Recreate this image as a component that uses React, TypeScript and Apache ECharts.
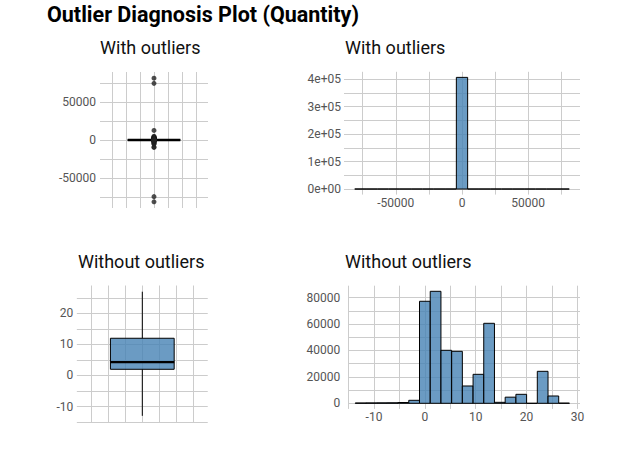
import React, { useEffect, useRef } from "react";
import * as echarts from "echarts";

// ---------- DATA ----------
const chartTitle = "Outlier Diagnosis Plot (Quantity)";
const panelTitles = ["With outliers", "With outliers", "Without outliers", "Without outliers"];

// Box with outliers: [x, min, Q1, median, Q3, max]
const boxWithStats = [0, -13, 1, 3, 10, 23];
const outlierValues = [
  80995, 74215, 12540, 4800, 4300, 3906, 3186, 3114, 3000, 2880, 2400, 2160, 2000, 1992,
  1900, 1788, 1728, 1600, 1540, 1500, 1440, 1400, 1350, 1200, 1152, 1100, 1000, 960, 900,
  800, 720, 600, 500, 480, 400, 300, 200, 144, 100, 48, 30,
  -80995, -74215, -9600, -9360, -5368, -4830, -3667, -3114, -2600, -2000, -1515, -1300,
  -1200, -1000, -800, -600, -500, -400, -300, -200, -100, -50, -24,
];

// Histogram with outliers
const histWithBinWidth = 8526;
const histWithCenters = [
  -76734, -68208, -59682, -51156, -42630, -34104, -25578, -17052, -8526, 0,
  8526, 17052, 25578, 34104, 42630, 51156, 59682, 68208, 76734,
];
const histWithCounts = [2, 0, 0, 0, 0, 0, 0, 0, 6, 406810, 3, 0, 0, 0, 0, 0, 0, 0, 2];

// Box without outliers
const boxWithoutStats = [0, -13, 2, 4.3, 12, 27];

// Histogram without outliers
const histWithoutBinWidth = 2.105;
const histWithoutCenters = [
  -12.63, -10.53, -8.42, -6.32, -4.21, -2.11, 0, 2.11, 4.21, 6.32,
  8.42, 10.53, 12.63, 14.74, 16.84, 18.95, 21.05, 23.16, 25.26, 27.37,
];
const histWithoutCounts = [
  250, 300, 350, 400, 600, 2270, 77270, 84820, 40130, 39370,
  13110, 21950, 60580, 740, 4650, 6800, 0, 24220, 5530, 150,
];

// ---------- STYLE ----------
const FONT = "Roboto, 'Noto Sans', sans-serif";
const FILL = "rgba(70,130,180,0.8)";
const GRID_COLOR = "#cccccc";
const LABEL_COLOR = "#555555";

function isMultiple(v: number, step: number) {
  const r = v / step;
  return Math.abs(r - Math.round(r)) < 1e-6;
}

function makeAxis(
  gridIndex: number,
  min: number,
  max: number,
  step: number,
  showLabels: boolean,
  labelStep: number,
  fmt: (v: number) => string,
  margin: number
) {
  return {
    type: "value",
    gridIndex,
    min,
    max,
    minInterval: step,
    maxInterval: step,
    axisLine: { show: false },
    axisTick: { show: false },
    axisLabel: {
      show: showLabels,
      color: LABEL_COLOR,
      fontFamily: FONT,
      fontSize: 12,
      margin,
      showMinLabel: false,
      showMaxLabel: false,
      formatter: (v: number) => (isMultiple(v, labelStep) ? fmt(v) : ""),
    },
    splitLine: {
      show: true,
      showMinLine: false,
      showMaxLine: false,
      lineStyle: { color: GRID_COLOR, width: 1 },
    },
  };
}

const plain = (v: number) => String(Math.round(v));
const sci = (v: number) => (v === 0 ? "0e+00" : `${Math.round(v / 1e5)}e+05`);

function histSeries(axisIndex: number, centers: number[], counts: number[], binWidth: number) {
  return {
    type: "custom",
    xAxisIndex: axisIndex,
    yAxisIndex: axisIndex,
    encode: { x: 0, y: 1 },
    data: centers.map((c, i) => [c, counts[i]]),
    renderItem: (_params: any, api: any) => {
      const c = api.value(0);
      const v = api.value(1);
      const p0 = api.coord([c - binWidth / 2, v]);
      const p1 = api.coord([c + binWidth / 2, 0]);
      return {
        type: "rect",
        shape: { x: p0[0], y: p0[1], width: p1[0] - p0[0], height: p1[1] - p0[1] },
        style: { fill: FILL, stroke: "#000", lineWidth: 1 },
      };
    },
  };
}

function boxSeries(axisIndex: number, stats: number[], medianWidth: number) {
  const half = 0.375;
  return {
    type: "custom",
    xAxisIndex: axisIndex,
    yAxisIndex: axisIndex,
    encode: { x: 0, y: [1, 2, 3, 4, 5] },
    data: [stats],
    z: 3,
    renderItem: (_params: any, api: any) => {
      const x = api.value(0);
      const mn = api.value(1);
      const q1 = api.value(2);
      const md = api.value(3);
      const q3 = api.value(4);
      const mx = api.value(5);
      const tl = api.coord([x - half, q3]);
      const br = api.coord([x + half, q1]);
      const top = api.coord([x, mx]);
      const bot = api.coord([x, mn]);
      const ml = api.coord([x - half, md]);
      const mr = api.coord([x + half, md]);
      const line = { stroke: "#000", lineWidth: 1 };
      return {
        type: "group",
        children: [
          { type: "line", shape: { x1: top[0], y1: top[1], x2: top[0], y2: tl[1] }, style: line },
          { type: "line", shape: { x1: bot[0], y1: br[1], x2: bot[0], y2: bot[1] }, style: line },
          {
            type: "rect",
            shape: { x: tl[0], y: tl[1], width: br[0] - tl[0], height: br[1] - tl[1] },
            style: { fill: FILL, stroke: "#000", lineWidth: 1 },
          },
          {
            type: "line",
            shape: { x1: ml[0], y1: ml[1], x2: mr[0], y2: mr[1] },
            style: { stroke: "#000", lineWidth: medianWidth },
          },
        ],
      };
    },
  };
}

export default function App() {
  const ref = useRef<HTMLDivElement>(null);

  useEffect(() => {
    if (!ref.current) return;
    const chart = echarts.init(ref.current, undefined, { renderer: "svg" });

    const maxWith = Math.max(...histWithCounts);
    const maxWithout = Math.max(...histWithoutCounts);
    const outAbs = Math.max(...outlierValues.map((v) => Math.abs(v)));
    const outPad = outAbs * 1.1;

    const gridBase = { containLabel: false, outerBoundsMode: "none" };

    const option: any = {
      animation: false,
      textStyle: { fontFamily: FONT },
      grid: [
        { ...gridBase, left: 100, top: 72, width: 108, height: 136 },
        { ...gridBase, left: 344, top: 71.8, width: 236, height: 122.8 },
        { ...gridBase, left: 76.85, top: 285.5, width: 130.9, height: 137 },
        { ...gridBase, left: 348.3, top: 285.7, width: 231.7, height: 123.2 },
      ],
      xAxis: [
        makeAxis(0, -0.77, 0.77, 0.2, false, 1, plain, 4),
        makeAxis(1, -outPad, outPad, 25000, true, 50000, plain, 2),
        makeAxis(2, -0.77, 0.77, 0.2, false, 1, plain, 4),
        makeAxis(3, -15.05, 30.5, 5, true, 10, plain, 2),
      ],
      yAxis: [
        makeAxis(0, -outPad, outPad, 25000, true, 50000, plain, 4),
        makeAxis(1, -0.05 * maxWith, 1.05 * maxWith, 50000, true, 100000, sci, 3),
        makeAxis(2, -15.15, 29, 5, true, 10, plain, 3.5),
        makeAxis(3, -0.05 * maxWithout, 1.05 * maxWithout, 10000, true, 20000, plain, 8),
      ],
      graphic: [
        {
          type: "text",
          x: 47,
          y: 14,
          style: {
            text: chartTitle,
            font: `bold 21.5px ${FONT}`,
            fill: "#000",
            verticalAlign: "middle",
          },
        },
        {
          type: "text",
          x: 150.3,
          y: 47,
          style: { text: panelTitles[0], font: `18px ${FONT}`, fill: "#111", align: "center", verticalAlign: "middle" },
        },
        {
          type: "text",
          x: 345,
          y: 47,
          style: { text: panelTitles[1], font: `18px ${FONT}`, fill: "#111", align: "left", verticalAlign: "middle" },
        },
        {
          type: "text",
          x: 141.2,
          y: 261.7,
          style: { text: panelTitles[2], font: `18px ${FONT}`, fill: "#111", align: "center", verticalAlign: "middle" },
        },
        {
          type: "text",
          x: 345,
          y: 261.7,
          style: { text: panelTitles[3], font: `18px ${FONT}`, fill: "#111", align: "left", verticalAlign: "middle" },
        },
      ],
      series: [
        boxSeries(0, boxWithStats, 2.4),
        {
          type: "scatter",
          xAxisIndex: 0,
          yAxisIndex: 0,
          symbol: "circle",
          symbolSize: 5,
          itemStyle: { color: "#222" },
          z: 4,
          data: outlierValues.map((v) => [0, v]),
        },
        histSeries(1, histWithCenters, histWithCounts, histWithBinWidth),
        boxSeries(2, boxWithoutStats, 2.2),
        histSeries(3, histWithoutCenters, histWithoutCounts, histWithoutBinWidth),
      ],
    };

    chart.setOption(option);
    return () => chart.dispose();
  }, []);

  return (
    <div
      ref={ref}
      style={{ position: "absolute", left: 0, top: 0, width: 620, height: 455 }}
    />
  );
}
